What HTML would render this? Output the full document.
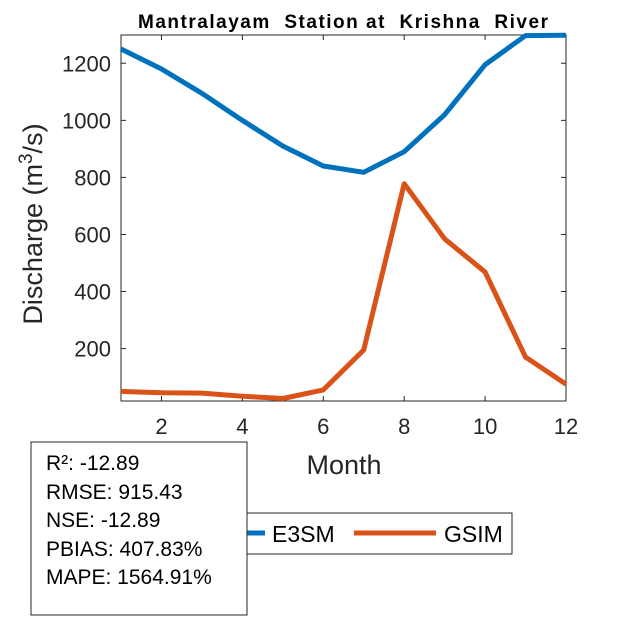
<!DOCTYPE html>
<html><head><style>body{margin:0;background:#fff}svg{display:block}text{font-family:"Liberation Sans",Arial,sans-serif}</style></head>
<body>
<svg width="625" height="625" viewBox="0 0 625 625" xmlns="http://www.w3.org/2000/svg">
<rect width="625" height="625" fill="#fff"/>
<g stroke="#262626" stroke-width="1" fill="none">
<rect x="121" y="35" width="445" height="366"/>
<path d="M161.5 401v-5M242.4 401v-5M323.3 401v-5M404.2 401v-5M485.1 401v-5M566 401v-5M161.5 35v5M242.4 35v5M323.3 35v5M404.2 35v5M485.1 35v5"/>
<path d="M121 348.6h5M121 291.5h5M121 234.5h5M121 177.4h5M121 120.4h5M121 63.3h5M566 348.6h-5M566 291.5h-5M566 234.5h-5M566 177.4h-5M566 120.4h-5M566 63.3h-5"/>
</g>
<g font-size="22" fill="#262626" text-anchor="end">
<text x="111" y="356.6">200</text><text x="111" y="299.5">400</text><text x="111" y="242.5">600</text><text x="111" y="185.4">800</text><text x="111" y="128.4">1000</text><text x="111" y="71.3">1200</text>
</g>
<g font-size="22" fill="#262626" text-anchor="middle">
<text x="161.5" y="434">2</text><text x="242.4" y="434">4</text><text x="323.3" y="434">6</text><text x="404.2" y="434">8</text><text x="485.1" y="434">10</text><text x="566" y="434">12</text>
</g>
<text x="344" y="474" font-size="27" fill="#262626" text-anchor="middle">Month</text>
<text transform="translate(42,224) rotate(-90)" font-size="27" fill="#262626" text-anchor="middle">Discharge (m<tspan dy="-10" font-size="19">3</tspan><tspan dy="10">/s)</tspan></text>
<text x="138" y="28" font-size="19" font-weight="bold" fill="#000" textLength="410" lengthAdjust="spacing" xml:space="preserve">Mantralayam  Station at  Krishna  River</text>
<polyline fill="none" stroke="#0072BD" stroke-width="5" stroke-linejoin="round" points="121,49 161.5,69 201.9,93.3 242.4,120.4 282.8,146 323.3,166 363.7,172.3 404.2,151.7 444.6,114.7 485.1,64.7 525.5,35.6 566,35.3"/>
<polyline fill="none" stroke="#D95319" stroke-width="5" stroke-linejoin="round" points="121,391.4 161.5,392.8 201.9,393.1 242.4,396.2 282.8,398.5 323.3,389.9 363.7,350 404.2,183.7 444.6,238.8 485.1,272.1 525.5,357.1 566,384.2"/>
<rect x="247" y="513" width="265" height="41" fill="#fff" stroke="#262626"/>
<line x1="230" y1="533" x2="265" y2="533" stroke="#0072BD" stroke-width="5"/>
<text x="272" y="542" font-size="23" fill="#000">E3SM</text>
<line x1="354" y1="533" x2="436" y2="533" stroke="#D95319" stroke-width="5"/>
<text x="444" y="542" font-size="23" fill="#000">GSIM</text>
<rect x="31" y="442" width="216" height="173" fill="#fff" stroke="#262626"/>
<g font-size="21" fill="#000">
<text x="46" y="470">R²: -12.89</text>
<text x="46" y="499">RMSE: 915.43</text>
<text x="46" y="527">NSE: -12.89</text>
<text x="46" y="556">PBIAS: 407.83%</text>
<text x="46" y="584">MAPE: 1564.91%</text>
</g>
</svg>
</body></html>
